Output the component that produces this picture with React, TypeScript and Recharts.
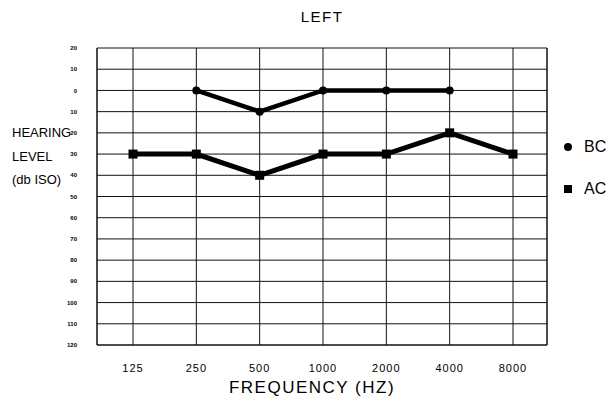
import {
  CartesianGrid,
  Line,
  LineChart,
  XAxis,
  YAxis,
} from "recharts";

const frequencies = ["125", "250", "500", "1000", "2000", "4000", "8000"];
const bcLevels = [null, 0, 10, 0, 0, 0, null];
const acLevels = [30, 30, 40, 30, 30, 20, 30];
const levelTicks = [-20, -10, 0, 10, 20, 30, 40, 50, 60, 70, 80, 90, 100, 110, 120];
const axisTitleLines = ["HEARING", "LEVEL", "(db ISO)"];

const data = frequencies.map((freq, i) => ({
  freq,
  bc: bcLevels[i],
  ac: acLevels[i],
}));

const font = "'Liberation Sans', Arial, sans-serif";

function SquareDot(props: any) {
  const { cx, cy, index } = props;
  if (cx == null || cy == null) return <g key={index} />;
  return <rect key={index} x={cx - 4.5} y={cy - 4.5} width={9} height={9} fill="#000" />;
}

function AudioLegend() {
  return (
    <div style={{ position: "absolute", left: 562, top: 137, fontFamily: font, fontSize: 16, color: "#000" }}>
      <div style={{ display: "flex", alignItems: "center", height: 20 }}>
        <svg width={14} height={14}>
          <circle cx={6} cy={7} r={4} fill="#000" />
        </svg>
        <span style={{ marginLeft: 8 }}>BC</span>
      </div>
      <div style={{ display: "flex", alignItems: "center", height: 20, marginTop: 22 }}>
        <svg width={14} height={14}>
          <rect x={2} y={3} width={8} height={8} fill="#000" />
        </svg>
        <span style={{ marginLeft: 8 }}>AC</span>
      </div>
    </div>
  );
}

export default function App() {
  return (
    <div style={{ position: "fixed", left: 0, top: 0, width: 612, height: 398, background: "#fff" }}>
      <div
        style={{
          position: "absolute",
          left: 0,
          width: 612,
          top: 8,
          textAlign: "center",
          paddingLeft: 32,
          boxSizing: "border-box",
          fontFamily: font,
          fontSize: 15,
          letterSpacing: 1.5,
        }}
      >
        LEFT
      </div>
      {axisTitleLines.map((t, i) => (
        <div
          key={t}
          style={{
            position: "absolute",
            left: 12,
            top: 125 + i * 23.5,
            fontFamily: font,
            fontSize: 13,
          }}
        >
          {t}
        </div>
      ))}
      <AudioLegend />
      <LineChart width={612} height={398} data={data} margin={{ top: 48, right: 0, bottom: 23, left: 0 }}>
        <CartesianGrid yAxisId="left" stroke="#111" strokeWidth={1} horizontalValues={levelTicks} />
        <XAxis
          dataKey="freq"
          type="category"
          padding={{ left: 36, right: 34 }}
          axisLine={{ stroke: "#111" }}
          tickLine={false}
          tickMargin={13}
          tick={{ fill: "#000", fontSize: 11, fontFamily: font, letterSpacing: 1 }}
          label={{
            value: "FREQUENCY (HZ)",
            position: "insideBottom",
            offset: -18,
            dx: -10,
            style: { fill: "#000", fontSize: 17, fontFamily: font, letterSpacing: 1.5 },
          }}
        />
        <YAxis
          yAxisId="left"
          width={97}
          type="number"
          domain={[-20, 120]}
          reversed
          ticks={levelTicks}
          interval={0}
          tickFormatter={(v: number) => String(Math.abs(v))}
          axisLine={{ stroke: "#111" }}
          tickLine={false}
          tickMargin={14}
          tick={{ fill: "#000", fontSize: 6, fontWeight: 700, fontFamily: font }}
        />
        <YAxis
          yAxisId="right"
          orientation="right"
          width={65}
          type="number"
          domain={[-20, 120]}
          reversed
          tick={false}
          tickLine={false}
          axisLine={{ stroke: "#111" }}
        />
        <Line
          yAxisId="left"
          dataKey="bc"
          name="BC"
          stroke="#000"
          strokeWidth={4.5}
          dot={{ r: 4, fill: "#000", strokeWidth: 0 }}
          connectNulls={false}
          isAnimationActive={false}
        />
        <Line
          yAxisId="left"
          dataKey="ac"
          name="AC"
          stroke="#000"
          strokeWidth={5}
          dot={<SquareDot />}
          isAnimationActive={false}
        />
      </LineChart>
    </div>
  );
}
